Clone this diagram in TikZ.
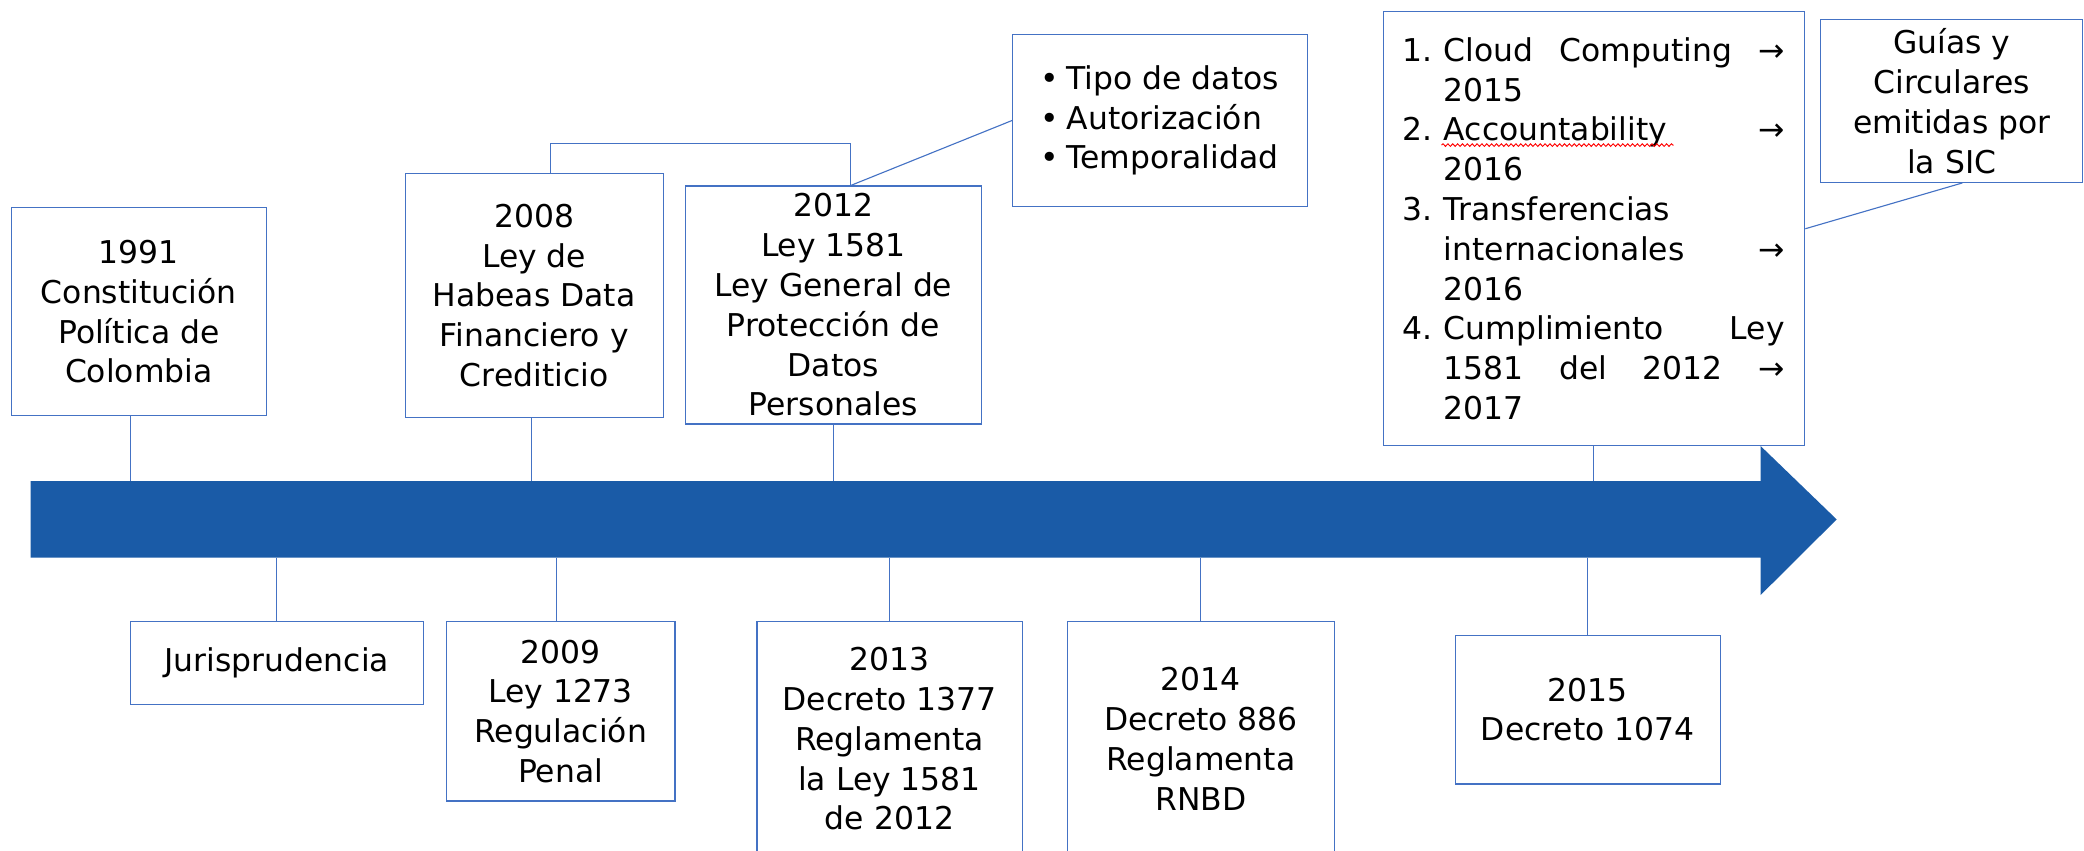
\documentclass[tikz,border=0pt]{standalone}
\usepackage{fontspec}
\setmainfont{DejaVu Sans}
\usepackage{tikz}
\usetikzlibrary{decorations.pathmorphing}
\definecolor{bordeazul}{RGB}{68,114,196}
\definecolor{flechaazul}{RGB}{26,91,167}
\tikzstyle{hito} = [draw=bordeazul, line width=0.6pt, fill=white, rectangle, align=center, inner sep=1pt, font=\fontsize{16.8}{21.3}\selectfont]
\tikzstyle{enlace} = [draw=bordeazul, line width=0.6pt]
\tikzstyle{flecha} = [fill=flechaazul]
\tikzstyle{ondulado} = [draw=red, line width=0.5pt, decorate, decoration={snake, amplitude=0.7pt, segment length=2.6pt}]
\tikzstyle{coord} = [coordinate]
\newlength{\anchoitem}
\setlength{\anchoitem}{6.41cm}
\newcommand{\itemsic}[2]{\makebox[0.775cm][l]{#1}#2}
\newcommand{\justo}[1]{\makebox[\anchoitem][s]{#1}}
\newcommand{\vineta}{\makebox[0.82em][l]{•}}

\begin{document}
\begin{tikzpicture}[x=0.025cm, y=-0.025cm]
	\useasboundingbox (0,0) rectangle (1568,640);
	\node [hito, minimum width=4.80cm, minimum height=3.91cm] (constitucion) at (104.45,234.55)
		{1991\\Constitución\\Política de\\Colombia};
	\node [hito, minimum width=5.52cm, minimum height=1.55cm] (jurisprudencia) at (208.3,498.75)
		{Jurisprudencia};
	\node [hito, minimum width=4.85cm, minimum height=4.60cm] (habeasdata) at (401.9,222.35)
		{2008\\Ley de\\Habeas Data\\Financiero y\\Crediticio};
	\node [hito, minimum width=4.30cm, minimum height=3.37cm] (ley1273) at (421.8,535.25)
		{2009\\Ley 1273\\Regulación\\Penal};
	\node [hito, minimum width=5.57cm, minimum height=4.475cm] (ley1581) at (627.05,229.5)
		{2012\\Ley 1581\\Ley General de\\Protección de\\Datos\\Personales};
	\node [hito, minimum width=5.54cm, minimum height=3.22cm, align=left] (criterios) at (872.75,90.65)
		{\vineta Tipo de datos\\\vineta Autorización\\\vineta Temporalidad};
	\node [hito, minimum width=4.985cm, minimum height=4.405cm] (decreto1377) at (669.3,555.9)
		{2013\\Decreto 1377\\Reglamenta\\la Ley 1581\\de 2012};
	\node [hito, minimum width=5.03cm, minimum height=4.405cm] (decreto886) at (903.55,555.9)
		{2014\\Decreto 886\\Reglamenta\\RNBD};
	\node [hito, minimum width=4.99cm, minimum height=2.80cm] (decreto1074) at (1194.65,533.85)
		{2015\\Decreto 1074};
	\node [hito, minimum width=7.93cm, minimum height=8.165cm, text width=7.19cm, align=left] (guiaslista) at (1199.25,172.1)
		{\itemsic{1.}{\justo{Cloud\hfill Computing\hfill →}}\\
		\itemsic{}{2015}\\
		\itemsic{2.}{\justo{Accountability\hfill →}}\\
		\itemsic{}{2016}\\
		\itemsic{3.}{Transferencias}\\
		\itemsic{}{\justo{internacionales\hfill →}}\\
		\itemsic{}{2016}\\
		\itemsic{4.}{\justo{Cumplimiento\hfill Ley}}\\
		\itemsic{}{\justo{1581\hfill del\hfill 2012\hfill →}}\\
		\itemsic{}{2017}};
	\node [hito, minimum width=4.925cm, minimum height=3.055cm] (guiassic) at (1468.5,76.1)
		{Guías y\\Circulares\\emitidas por\\la SIC};
	\node [coord] (ejesup) at (0,362) {};
	\node [coord] (ejeinf) at (0,419.6) {};
	\node [coord] (puente) at (527,107.8) {};

	\draw [ondulado] ([xshift=1.11cm, yshift=-2.52cm]guiaslista.north west) -- ([xshift=5.475cm, yshift=-2.52cm]guiaslista.north west);
	\draw [enlace] ([xshift=-0.16cm]constitucion.south) -- ([xshift=-0.16cm]constitucion.south |- ejesup);
	\draw [enlace] ([xshift=-0.055cm]habeasdata.south) -- ([xshift=-0.055cm]habeasdata.south |- ejesup);
	\draw [enlace] (ley1581.south) -- (ley1581.south |- ejesup);
	\draw [enlace] (guiaslista.south) -- (guiaslista.south |- ejesup);
	\draw [enlace] (jurisprudencia.north) -- (jurisprudencia.north |- ejeinf);
	\draw [enlace] ([xshift=-0.07cm]ley1273.north) -- ([xshift=-0.07cm]ley1273.north |- ejeinf);
	\draw [enlace] (decreto1377.north) -- (decreto1377.north |- ejeinf);
	\draw [enlace] (decreto886.north) -- (decreto886.north |- ejeinf);
	\draw [enlace] (decreto1074.north) -- (decreto1074.north |- ejeinf);
	\draw [enlace] ([xshift=0.3cm]habeasdata.north) |- (puente) -| ([xshift=0.325cm]ley1581.north);
	\draw [enlace] ([xshift=0.325cm]ley1581.north) -- (criterios.west);
	\draw [enlace] ([xshift=0.2cm]guiassic.south) -- (guiaslista.east);
	\fill [flecha] (23,362) -- (1324.7,362) -- (1324.7,335.6) -- (1381.9,390.8) -- (1324.7,447.7)
		-- (1324.7,419.6) -- (23,419.6) -- cycle;
\end{tikzpicture}
\end{document}
